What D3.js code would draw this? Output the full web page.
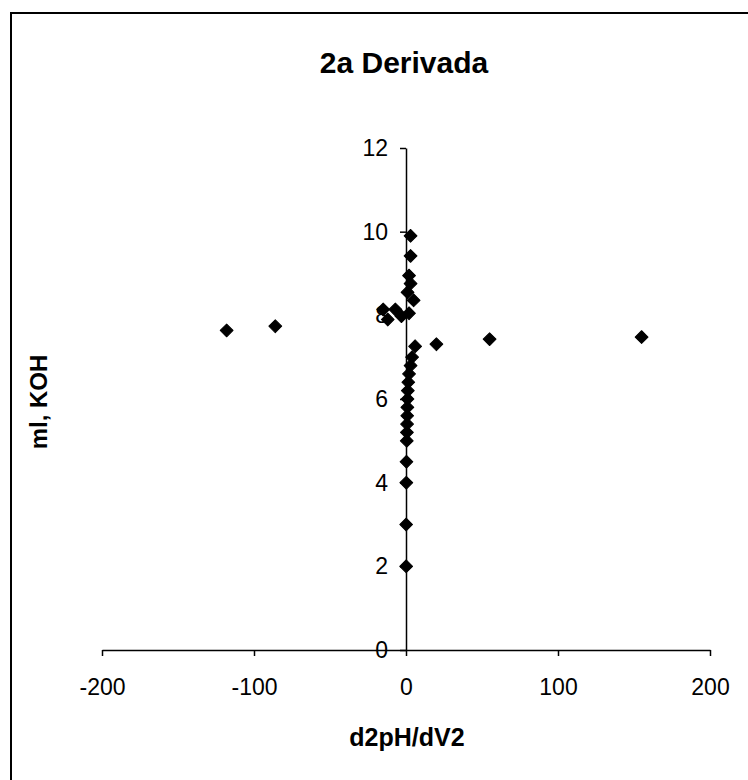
<!DOCTYPE html>
<html>
<head>
<meta charset="utf-8">
<script src="https://cdn.jsdelivr.net/npm/d3@7"></script>
<style>
    body { margin: 0; background: #fff; }
    #chart-area { width: 748px; height: 780px; }
</style>
</head>
<body>
<div id="chart-area"></div>
<script>

// second derivative values (x) and ml KOH added (y)
let d2pH = [0.1, 0.1, 0.2, 0.3, 0.5, 0.6, 0.7, 0.8, 0.9, 1.0, 1.2, 1.5, 2, 3, 4,
    6, 20, 55, 155, -118, -86, -12, -15, -7, -3, 2, 5, 1, 3, 2, 3, 3];
let mlKOH = [2, 3, 4, 4.5, 5.0, 5.2, 5.4, 5.6, 5.8, 6.0, 6.2, 6.4, 6.6, 6.8, 7.0,
    7.26, 7.31, 7.43, 7.48, 7.64, 7.74, 7.9, 8.14, 8.14, 7.98, 8.05, 8.36, 8.55, 8.76, 8.95, 9.42, 9.9];

let xTicks = [-200, -100, 0, 100, 200];
let yTicks = [0, 2, 4, 6, 8, 10, 12];

let chartTitle = "2a Derivada";
let xTitle = "d2pH/dV2";
let yTitle = "ml, KOH";


class ScatterVis {

    constructor(_parentElement, _data) {
        this.parentElement = _parentElement;
        this.data = _data;

        this.initVis();
    }

    initVis() {
        let vis = this;

        vis.margin = {top: 148, right: 38, bottom: 130, left: 102};
        vis.width = 748 - vis.margin.left - vis.margin.right;
        vis.height = 780 - vis.margin.top - vis.margin.bottom;

        vis.root = d3.select("#" + vis.parentElement).append("svg")
            .attr("width", 748)
            .attr("height", 780);

        // frame of the chart area (right and bottom edge fall off the picture)
        vis.root.append("rect")
            .attr("x", 11)
            .attr("y", 13)
            .attr("width", 800)
            .attr("height", 820)
            .attr("fill", "none")
            .attr("stroke", "#000")
            .attr("stroke-width", 2);

        vis.svg = vis.root.append("g")
            .attr("transform", `translate (${vis.margin.left}, ${vis.margin.top})`);

        vis.x = d3.scaleLinear().domain([-200, 200]).range([0, vis.width]);
        vis.y = d3.scaleLinear().domain([0, 12]).range([vis.height, 0]);

        vis.wrangleData();
    }

    wrangleData() {
        let vis = this;

        vis.points = vis.data[0].map((d, i) => ({x: d, y: vis.data[1][i]}));

        vis.updateVis();
    }

    updateVis() {
        let vis = this;

        // plain hyphen for negatives, like the original
        let fmt = d => String(d);

        // x axis sits on y = 0
        let xAxis = vis.svg.append("g")
            .attr("transform", `translate(0, ${vis.y(0)})`)
            .call(d3.axisBottom(vis.x).tickValues(xTicks).tickFormat(fmt)
                .tickSize(6).tickSizeOuter(0).tickPadding(23));

        // y axis sits on x = 0
        let yAxis = vis.svg.append("g")
            .attr("transform", `translate(${vis.x(0)}, 0)`)
            .call(d3.axisLeft(vis.y).tickValues(yTicks).tickFormat(fmt)
                .tickSize(6).tickSizeOuter(0).tickPadding(12));

        [xAxis, yAxis].forEach(a => {
            a.select(".domain").attr("stroke-width", 1.5);
            a.selectAll(".tick line").attr("stroke-width", 1.5);
            a.selectAll("text")
                .attr("font-family", "Liberation Sans, Arial, sans-serif")
                .attr("font-size", 23)
                .attr("fill", "#000");
        });

        // diamonds
        vis.svg.append("g")
            .selectAll("path")
            .data(vis.points)
            .join("path")
            .attr("transform", d => `translate(${vis.x(d.x)}, ${vis.y(d.y)}) rotate(45)`)
            .attr("d", d3.symbol().type(d3.symbolSquare).size(82))
            .attr("fill", "#000")
            .attr("stroke", "#000")
            .attr("stroke-width", 1)
            .attr("stroke-linejoin", "round");

        // titles
        vis.root.append("text")
            .attr("x", 404)
            .attr("y", 73)
            .attr("text-anchor", "middle")
            .attr("font-family", "Liberation Sans, Arial, sans-serif")
            .attr("font-weight", "bold")
            .attr("font-size", 30)
            .text(chartTitle);

        vis.root.append("text")
            .attr("x", 407)
            .attr("y", 746)
            .attr("text-anchor", "middle")
            .attr("font-family", "Liberation Sans, Arial, sans-serif")
            .attr("font-weight", "bold")
            .attr("font-size", 25)
            .text(xTitle);

        vis.root.append("text")
            .attr("transform", "translate(47, 402) rotate(-90)")
            .attr("text-anchor", "middle")
            .attr("font-family", "Liberation Sans, Arial, sans-serif")
            .attr("font-weight", "bold")
            .attr("font-size", 24)
            .text(yTitle);
    }
}

let scatterVis = new ScatterVis("chart-area", [d2pH, mlKOH]);

</script>
</body>
</html>
